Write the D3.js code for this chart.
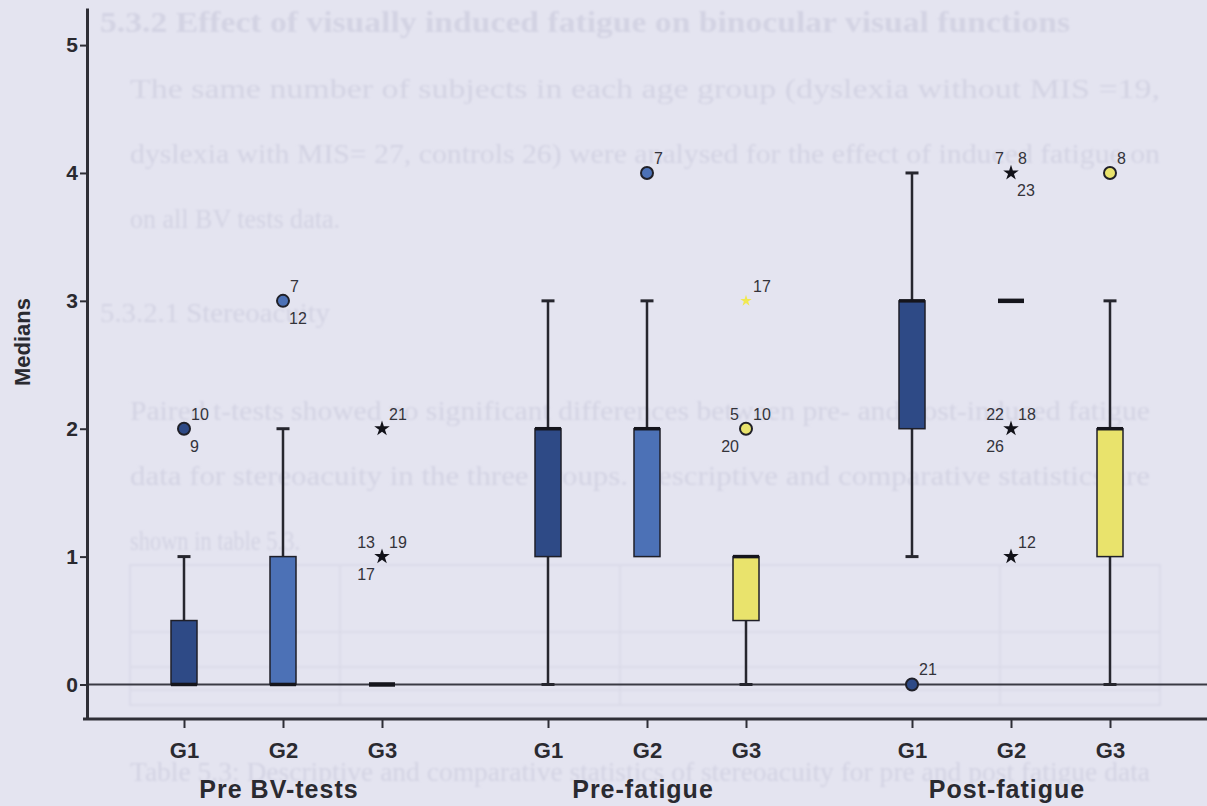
<!DOCTYPE html>
<html>
<head>
<meta charset="utf-8">
<script src="https://cdn.jsdelivr.net/npm/d3@7"></script>
<style>
  html, body { margin: 0; padding: 0; background: #e4e4f0; }
  svg { display: block; }
  .tick text { font-family: "Liberation Sans", Arial, sans-serif; font-weight: bold; fill: #2a2a30; }
</style>
</head>
<body>
<div id="chart"></div>
<script>
// phases on the x axis and groups inside each phase
const phases = ['Pre BV-tests', 'Pre-fatigue', 'Post-fatigue'];
const groups = ['G1', 'G2', 'G3'];
const yTicks = [0, 1, 2, 3, 4, 5];

// box statistics, rows = phase, columns = group
const whiskerLow = [[0, 0, 0], [0, 1, 0], [1, 3, 0]];
const q1 = [[0, 0, 0], [1, 1, 0.5], [2, 3, 1]];
const medians = [[0, 0, 0], [2, 2, 1], [3, 3, 2]];
const q3 = [[0.5, 1, 0], [2, 2, 1], [3, 3, 2]];
const whiskerHigh = [[1, 2, 0], [3, 3, 1], [4, 3, 3]];

// outliers (circle) and extremes (star) with case numbers
const outlierPhase = ['Pre BV-tests', 'Pre BV-tests', 'Pre BV-tests', 'Pre BV-tests', 'Pre-fatigue', 'Pre-fatigue',
  'Pre-fatigue', 'Post-fatigue', 'Post-fatigue', 'Post-fatigue', 'Post-fatigue', 'Post-fatigue'];
const outlierGroup = ['G1', 'G2', 'G3', 'G3', 'G2', 'G3', 'G3', 'G1', 'G2', 'G2', 'G2', 'G3'];
const outlierValue = [2, 3, 2, 1, 4, 3, 2, 0, 4, 2, 1, 4];
const outlierKind = ['circle', 'circle', 'star', 'star', 'circle', 'faint', 'circle', 'circle', 'star', 'star', 'star', 'circle'];
const outlierIds = [['10', '9'], ['7', '12'], ['21'], ['13', '19', '17'], ['7'], ['17'], ['5', '10', '20'],
  ['21'], ['7', '8', '23'], ['22', '18', '26'], ['12'], ['8']];
// where each case number sits around its mark
const outlierSlots = [['ur', 'lr'], ['ur', 'lr'], ['ur'], ['ul', 'ur', 'll'], ['ur'], ['ur'], ['ul', 'ur', 'll'],
  ['ur'], ['ul', 'ur', 'lr'], ['ul', 'ur', 'll'], ['ur'], ['ur']];

// faint text showing through from the other side of the scanned page
const ghostLines = [
  { t: '5.3.2 Effect of visually induced fatigue on binocular visual functions', x: 100, y: 32, w: 970, b: true },
  { t: 'The same number of subjects in each age group (dyslexia without MIS =19,', x: 130, y: 98, w: 1030 },
  { t: 'dyslexia with MIS= 27, controls 26) were analysed for the effect of induced fatigue on', x: 130, y: 163, w: 1030 },
  { t: 'on all BV tests data.', x: 130, y: 228, w: 210 },
  { t: '5.3.2.1 Stereoacuity', x: 100, y: 322, w: 230 },
  { t: 'Paired t-tests showed no significant differences between pre- and post-induced fatigue', x: 130, y: 420, w: 1020 },
  { t: 'data for stereoacuity in the three groups. Descriptive and comparative statistics are', x: 130, y: 485, w: 1020 },
  { t: 'shown in table 5.3.', x: 130, y: 550, w: 170 },
  { t: 'Table 5.3: Descriptive and comparative statistics of stereoacuity for pre and post fatigue data', x: 130, y: 781, w: 1020 }
];

const colors = d3.scaleOrdinal().domain(groups).range(['#2e4a86', '#4c71b6', '#e9e36c']);

const width = 1207;
const height = 806;

const svg = d3.select('#chart')
  .append('svg')
  .attr('width', width)
  .attr('height', height);

svg.append('defs')
  .append('filter')
  .attr('id', 'soft')
  .append('feGaussianBlur')
  .attr('stdDeviation', 1.2);

svg.append('rect')
  .attr('width', width)
  .attr('height', height)
  .attr('fill', '#e4e4f0');

// ghost page text
const ghost = svg.append('g')
  .attr('fill', '#d3d3e3')
  .attr('filter', 'url(#soft)')
  .style('font-family', '"Liberation Serif", "Times New Roman", serif');
ghost.selectAll('text')
  .data(ghostLines)
  .enter()
  .append('text')
  .attr('x', d => d.x)
  .attr('y', d => d.y)
  .attr('textLength', d => d.w)
  .attr('lengthAdjust', 'spacingAndGlyphs')
  .style('font-size', d => (d.b ? '29px' : '27px'))
  .style('font-weight', d => (d.b ? 'bold' : 'normal'))
  .text(d => d.t);
// faint table rules
const ghostRules = svg.append('g').attr('stroke', '#d8d8e7').attr('stroke-width', 1.5).attr('fill', 'none')
  .attr('filter', 'url(#soft)');
ghostRules.append('rect').attr('x', 130).attr('y', 565).attr('width', 1030).attr('height', 140);
[632, 667, 690].forEach(yy => ghostRules.append('line').attr('x1', 130).attr('x2', 1160).attr('y1', yy).attr('y2', yy));
[340, 620, 1000].forEach(xx => ghostRules.append('line').attr('x1', xx).attr('x2', xx).attr('y1', 565).attr('y2', 705));

// scales
const y = d3.scaleLinear()
  .domain([-0.27, 5.29])
  .range([719, 8]);
const x0 = d3.scaleBand()
  .domain(phases)
  .range([101, 1193]);
const x1 = d3.scalePoint()
  .domain(groups)
  .range([-99, 99]);
const cx = (p, g) => x0(p) + x0.bandwidth() / 2 + x1(g);

const g = svg.append('g');

// zero reference line
g.append('line')
  .attr('x1', 87)
  .attr('x2', width)
  .attr('y1', y(0))
  .attr('y2', y(0))
  .attr('stroke', '#3a3a44')
  .attr('stroke-width', 2);

// boxes
const boxW = 26;
const capW = 13;
phases.forEach((p, i) => {
  groups.forEach((grp, j) => {
    const c = cx(p, grp);
    const col = colors(grp);
    const lo = whiskerLow[i][j];
    const hi = whiskerHigh[i][j];
    const b1 = q1[i][j];
    const b3 = q3[i][j];
    const wg = g.append('g').attr('stroke', '#26262e').attr('stroke-width', 2.5);
    if (hi > b3) {
      wg.append('line').attr('x1', c).attr('x2', c).attr('y1', y(hi)).attr('y2', y(b3));
      wg.append('line').attr('x1', c - capW / 2).attr('x2', c + capW / 2).attr('y1', y(hi)).attr('y2', y(hi)).attr('stroke-width', 3);
    }
    if (lo < b1) {
      wg.append('line').attr('x1', c).attr('x2', c).attr('y1', y(b1)).attr('y2', y(lo));
      wg.append('line').attr('x1', c - capW / 2).attr('x2', c + capW / 2).attr('y1', y(lo)).attr('y2', y(lo)).attr('stroke-width', 3);
    }
    if (b3 > b1) {
      g.append('rect')
        .attr('x', c - boxW / 2)
        .attr('y', y(b3))
        .attr('width', boxW)
        .attr('height', y(b1) - y(b3))
        .attr('fill', col)
        .attr('stroke', '#1f1f28')
        .attr('stroke-width', 1.5);
    }
    g.append('line')
      .attr('x1', c - boxW / 2)
      .attr('x2', c + boxW / 2)
      .attr('y1', y(medians[i][j]))
      .attr('y2', y(medians[i][j]))
      .attr('stroke', '#15151c')
      .attr('stroke-width', b3 > b1 ? 3.5 : 4.5);
  });
});

// outliers and extremes
const star = d3.symbol().type(d3.symbolStar);
const slotPos = {
  ur: { dx: 7, dy: -9, anchor: 'start' },
  ul: { dx: -7, dy: -9, anchor: 'end' },
  lr: { dx: 6, dy: 23, anchor: 'start' },
  ll: { dx: -7, dy: 23, anchor: 'end' }
};
outlierValue.forEach((v, k) => {
  const px = cx(outlierPhase[k], outlierGroup[k]);
  const py = y(v);
  const kind = outlierKind[k];
  if (kind === 'circle') {
    g.append('circle')
      .attr('cx', px)
      .attr('cy', py)
      .attr('r', 6)
      .attr('fill', colors(outlierGroup[k]))
      .attr('stroke', '#202028')
      .attr('stroke-width', 2);
  } else {
    g.append('path')
      .attr('transform', `translate(${px},${py})`)
      .attr('d', star.size(kind === 'star' ? 75 : 40)())
      .attr('fill', kind === 'star' ? '#111118' : '#f0e850');
  }
  outlierIds[k].forEach((id, n) => {
    const s = slotPos[outlierSlots[k][n]];
    g.append('text')
      .attr('x', px + s.dx)
      .attr('y', py + s.dy)
      .attr('text-anchor', s.anchor)
      .style('font-family', '"Liberation Sans", Arial, sans-serif')
      .style('font-size', '16px')
      .attr('fill', '#33333a')
      .text(id);
  });
});

// y axis
const yAxis = g.append('g')
  .attr('transform', 'translate(87,0)')
  .call(d3.axisLeft(y).tickValues(yTicks).tickFormat(d3.format('d')).tickSize(7).tickSizeOuter(0).tickPadding(2));
yAxis.select('.domain').attr('stroke', '#2e2e36').attr('stroke-width', 3);
yAxis.selectAll('.tick line').attr('stroke', '#2e2e36').attr('stroke-width', 2);
yAxis.selectAll('.tick text').style('font-size', '21px');

g.append('text')
  .attr('transform', `translate(30,${342}) rotate(-90)`)
  .attr('text-anchor', 'middle')
  .style('font-family', '"Liberation Sans", Arial, sans-serif')
  .style('font-weight', 'bold')
  .style('font-size', '22px')
  .attr('fill', '#2a2a30')
  .text('Medians');

// x axis
g.append('line')
  .attr('x1', 83)
  .attr('x2', width)
  .attr('y1', 719)
  .attr('y2', 719)
  .attr('stroke', '#2e2e36')
  .attr('stroke-width', 3);

phases.forEach(p => {
  const center = x0(p) + x0.bandwidth() / 2;
  const ax = g.append('g')
    .attr('transform', `translate(${center},719)`)
    .call(d3.axisBottom(x1).tickSize(9).tickSizeOuter(0).tickPadding(14));
  ax.select('.domain').remove();
  ax.selectAll('.tick line').attr('stroke', '#2e2e36').attr('stroke-width', 2);
  ax.selectAll('.tick text').style('font-size', '22px');

  g.append('text')
    .attr('x', center - 4)
    .attr('y', 798)
    .attr('text-anchor', 'middle')
    .style('font-family', '"Liberation Sans", Arial, sans-serif')
    .style('font-weight', 'bold')
    .style('font-size', '25px')
    .style('letter-spacing', '1px')
    .attr('fill', '#2a2a30')
    .text(p);
});
</script>
</body>
</html>
